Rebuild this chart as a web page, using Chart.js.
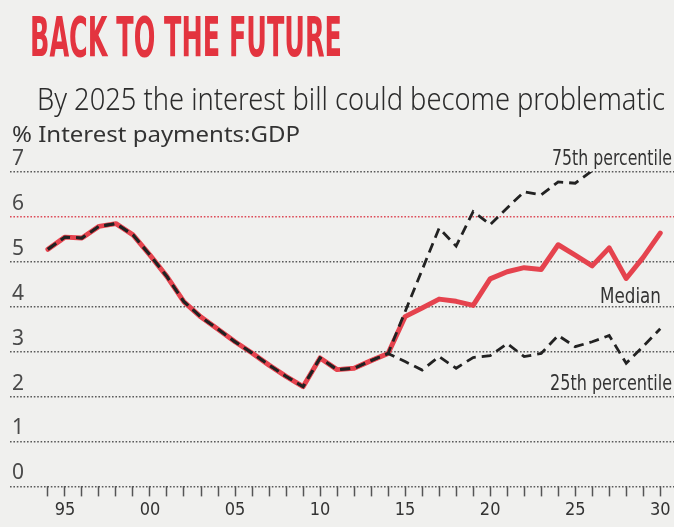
<!DOCTYPE html>
<html>
<head>
<meta charset="utf-8">
<script src="https://cdn.jsdelivr.net/npm/chart.js@4/dist/chart.umd.min.js"></script>
<style>
    body { margin: 0; background: #f0f0ee; }
    #wrap { position: relative; width: 674px; height: 527px; overflow: hidden; background: #f0f0ee; }
    #chart { position: absolute; left: 0; top: 0; }
    .txt { position: absolute; white-space: nowrap; line-height: 1; transform-origin: 0 0; }
    .narrow { font-family: "Liberation Sans Narrow", "DejaVu Sans Condensed", "Liberation Sans", sans-serif; }
    #title { left: 30px; top: 10px; font-size: 55px; font-weight: bold; color: #e3343f; }
    #subtitle { left: 37px; top: 77px; font: 300 31px "Noto Sans", sans-serif; color: #2b2b2b; }
    #unit { left: 12px; top: 120px; font: 21px "Noto Sans", sans-serif; color: #333; }
    .lineLabel { font-size: 22px; color: #333; }
</style>
</head>
<body>
<div id="wrap">
    <canvas id="chart" width="674" height="527"></canvas>
    <div id="title" class="txt narrow">BACK TO THE FUTURE</div>
    <div id="subtitle" class="txt">By 2025 the interest bill could become problematic</div>
    <div id="unit" class="txt">% Interest payments:GDP</div>
    <div id="lab75" class="txt narrow lineLabel" style="left:552px;top:147px">75th percentile</div>
    <div id="labMed" class="txt narrow lineLabel" style="left:600px;top:285px">Median</div>
    <div id="lab25" class="txt narrow lineLabel" style="left:550px;top:372px">25th percentile</div>
</div>
<script>
// years on the x axis, one point per year
const years = [1994,1995,1996,1997,1998,1999,2000,2001,2002,2003,2004,2005,2006,2007,2008,2009,2010,2011,2012,
    2013,2014,2015,2016,2017,2018,2019,2020,2021,2022,2023,2024,2025,2026,2027,2028,2029,2030]

// median interest payments:GDP, %
const median = [5.28,5.55,5.53,5.79,5.85,5.6,5.15,4.67,4.11,3.77,3.5,3.22,2.97,2.7,2.45,2.22,2.86,2.6,2.63,
    2.8,2.96,3.78,3.97,4.17,4.12,4.03,4.62,4.78,4.87,4.83,5.38,5.15,4.91,5.31,4.63,5.1,5.64]

// percentile projections start where the history ends (2014)
const projYears = [2015,2016,2017,2018,2019,2020,2021,2022,2023,2024,2025,2026,2027,2028,2029,2030]
const p75proj = [3.89,4.82,5.75,5.35,6.12,5.83,6.2,6.56,6.49,6.78,6.75,7.03]
const p25proj = [2.78,2.59,2.89,2.63,2.87,2.91,3.18,2.89,2.96,3.36,3.11,3.22,3.36,2.74,3.12,3.51]

const yTicks = [0,1,2,3,4,5,6,7]
const xLabelYears = [1995,2000,2005,2010,2015,2020,2025,2030]
const xLabels = ['95','00','05','10','15','20','25','30']

const histEnd = years.indexOf(2014)

function toPoints(xs, ys){
    return ys.map((v, i) => ({x: xs[i], y: v}))
}
// before the projection all three series are the same line
function withHistory(proj){
    const hist = toPoints(years.slice(0, histEnd + 1), median.slice(0, histEnd + 1))
    return hist.concat(toPoints(projYears, proj))
}

const tickFont = '"Liberation Sans Narrow", "DejaVu Sans Condensed", "Liberation Sans", sans-serif'

new Chart(document.getElementById('chart'), {
    type: 'line',
    data: {
        datasets: [
            {
                label: '75th percentile',
                data: withHistory(p75proj),
                borderColor: '#222',
                borderWidth: 2.8,
                borderDash: [10, 6],
                order: 1
            },
            {
                label: '25th percentile',
                data: withHistory(p25proj),
                borderColor: '#222',
                borderWidth: 2.8,
                borderDash: [10, 6],
                order: 1
            },
            {
                label: 'Median',
                data: toPoints(years, median),
                borderColor: '#e5434e',
                borderWidth: 5,
                borderJoinStyle: 'round',
                borderCapStyle: 'round',
                order: 2
            }
        ]
    },
    options: {
        responsive: false,
        animation: false,
        layout: { padding: { left: 6, top: 172, right: 0, bottom: 3 } },
        plugins: { legend: { display: false }, tooltip: { enabled: false } },
        elements: { point: { radius: 0 }, line: { tension: 0 } },
        scales: {
            x: {
                type: 'linear',
                min: 1991.77,
                max: 2030.81,
                afterBuildTicks: axis => { axis.ticks = years.map(v => ({value: v})) },
                grid: { drawOnChartArea: false, drawTicks: true, tickLength: 10, tickWidth: 1.5, tickColor: '#555' },
                border: { display: false },
                ticks: {
                    autoSkip: false,
                    maxRotation: 0,
                    padding: 3,
                    color: '#333',
                    font: { family: tickFont, size: 18 },
                    callback: v => {
                        const i = xLabelYears.indexOf(v)
                        return i >= 0 ? xLabels[i] : ''
                    }
                }
            },
            y: {
                min: 0,
                max: 7,
                afterBuildTicks: axis => { axis.ticks = yTicks.map(v => ({value: v})) },
                grid: {
                    color: ctx => (ctx.tick && ctx.tick.value === 6) ? '#dc4a57' : '#5a5a5a',
                    lineWidth: 1.6,
                    drawTicks: false
                },
                border: { display: false, dash: [1.6, 1.8] },
                ticks: {
                    mirror: true,
                    padding: 2,
                    labelOffset: -13,
                    color: '#4a4a4a',
                    font: { family: '"Noto Sans", sans-serif', size: 21 }
                }
            }
        }
    }
})

// squeeze or stretch a text block to a given width
function fitText(id, width){
    const el = document.getElementById(id)
    const w = el.getBoundingClientRect().width
    el.style.transform = `scaleX(${width / w})`
}
fitText('title', 312)
fitText('subtitle', 628)
fitText('unit', 288)
fitText('lab75', 120)
fitText('labMed', 61)
fitText('lab25', 122)
</script>
</body>
</html>
